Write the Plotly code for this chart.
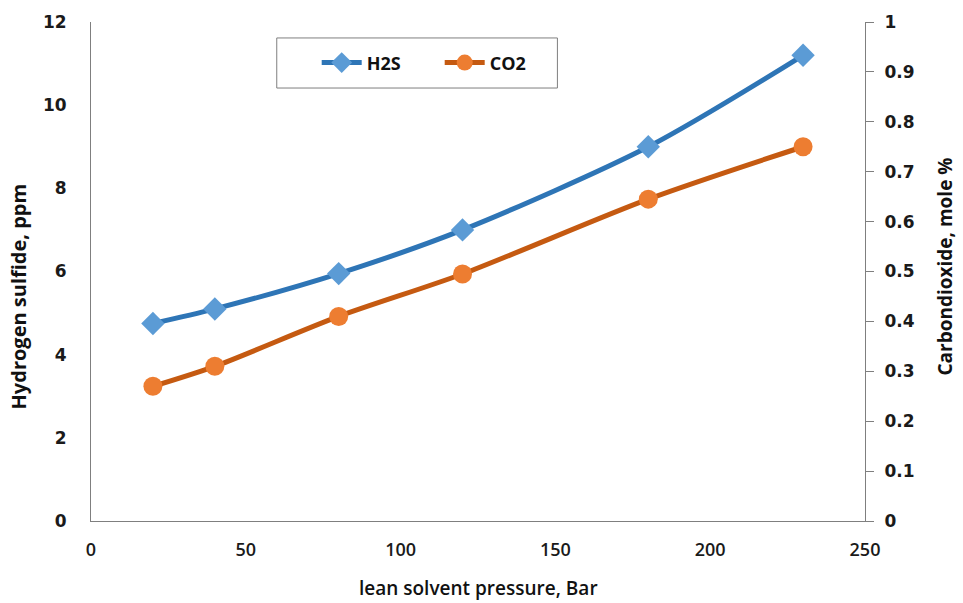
import plotly.graph_objects as go

pressure = [20, 40, 80, 120, 180, 230]
h2s_ppm = [4.75, 5.1, 5.95, 7.0, 9.0, 11.2]
co2_mole = [0.27, 0.31, 0.41, 0.495, 0.645, 0.75]

x_ticks = [0, 50, 100, 150, 200, 250]
y_left_ticks = [0, 2, 4, 6, 8, 10, 12]
y_right_ticks = [0, 0.1, 0.2, 0.3, 0.4, 0.5, 0.6, 0.7, 0.8, 0.9, 1]

tick_font = dict(family="DejaVu Sans", size=17, color="#1a1a1a", weight="bold")

fig = go.Figure()
fig.add_trace(go.Scatter(
    x=pressure, y=h2s_ppm, name="H2S", mode="lines+markers",
    line=dict(color="#2E75B6", width=5, shape="spline", smoothing=0.8),
    marker=dict(symbol="diamond", size=18, color="#5B9BD5"),
    yaxis="y"))
fig.add_trace(go.Scatter(
    x=pressure, y=co2_mole, name="CO2", mode="lines+markers",
    line=dict(color="#C55A11", width=5, shape="spline", smoothing=0.8),
    marker=dict(symbol="circle", size=19, color="#ED7D31"),
    yaxis="y2"))

fig.update_layout(
    width=963, height=603,
    margin=dict(l=91, r=98, t=22, b=82),
    paper_bgcolor="white", plot_bgcolor="white",
    showlegend=True,
    legend=dict(orientation="h", x=0.2916, y=0.918, xanchor="left", yanchor="middle",
                borderwidth=0, bgcolor="rgba(0,0,0,0)",
                font=dict(family="Open Sans", size=18, color="#111111", weight="bold"),
                itemwidth=40, entrywidth=68),
    shapes=[dict(type="rect", xref="paper", yref="paper",
                 x0=0.24, x1=0.6026, y0=0.8677, y1=0.968,
                 line=dict(color="#7f7f7f", width=1), fillcolor="white", layer="below")],
    xaxis=dict(range=[0, 250], tickvals=x_ticks, showgrid=False, zeroline=False,
               showline=True, linecolor="#7f7f7f", linewidth=1, ticks="",
               tickfont=dict(family="Open Sans", size=18, color="#1a1a1a", weight=600),
               ticklabelstandoff=12),
    yaxis=dict(range=[0, 12], tickvals=y_left_ticks, showgrid=False, zeroline=False,
               showline=True, linecolor="#7f7f7f", linewidth=1, ticks="",
               tickfont=tick_font, ticklabelstandoff=20),
    yaxis2=dict(range=[0, 1], tickvals=y_right_ticks, overlaying="y", side="right",
                showgrid=False, zeroline=False, showline=True, linecolor="#7f7f7f",
                linewidth=1, ticks="outside", ticklen=8, tickcolor="#7f7f7f",
                tickfont=tick_font, ticklabelstandoff=7),
    annotations=[
        dict(text="lean solvent pressure, Bar", xref="paper", yref="paper",
             x=0.5, y=0, yshift=-67, showarrow=False, xanchor="center", yanchor="middle",
             font=dict(family="Open Sans", size=19, color="#111111", weight=600)),
        dict(text="Hydrogen sulfide, ppm", xref="paper", yref="paper",
             x=0, xshift=-73, y=0.45, showarrow=False, textangle=-90,
             xanchor="center", yanchor="middle",
             font=dict(family="Open Sans", size=20, color="#111111", weight="bold")),
        dict(text="Carbondioxide, mole %", xref="paper", yref="paper",
             x=1, xshift=80, y=0.51, showarrow=False, textangle=-90,
             xanchor="center", yanchor="middle",
             font=dict(family="Open Sans", size=19, color="#111111", weight="bold")),
    ],
)

fig.write_html("out.html")
